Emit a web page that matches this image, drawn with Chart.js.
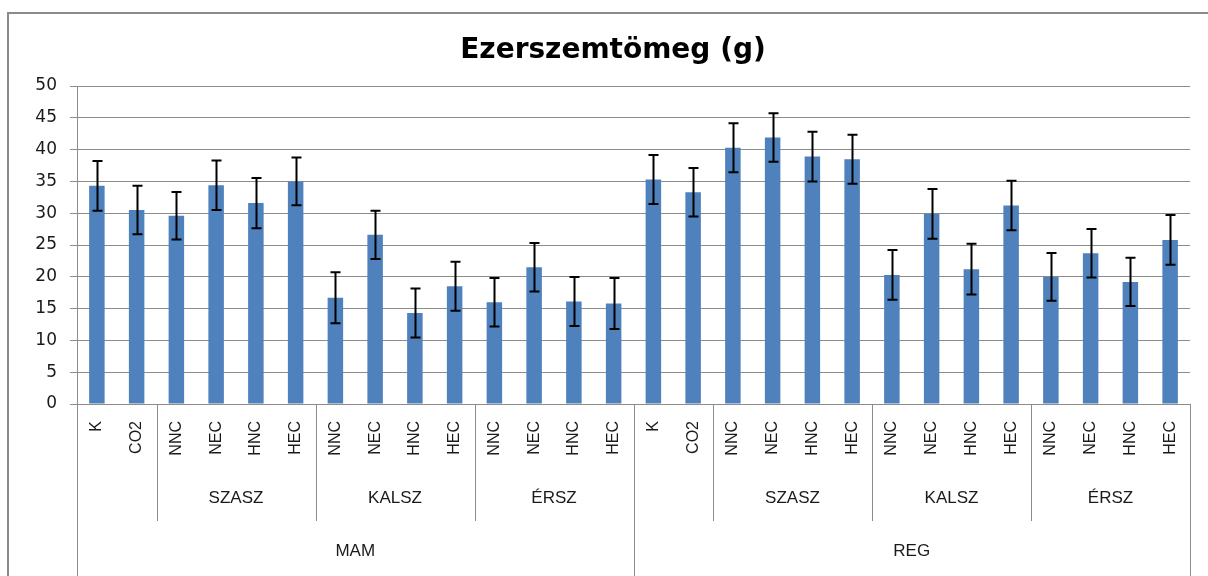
<!DOCTYPE html>
<html>
<head>
<meta charset="utf-8">
<script src="https://cdn.jsdelivr.net/npm/chart.js@4.4.1/dist/chart.umd.min.js"></script>
<style>
  body { margin: 0; background: #fff; }
  #wrap { width: 1208px; height: 576px; }
</style>
</head>
<body>
<div id="wrap"><canvas id="chart" width="1208" height="576"></canvas></div>
<script>
// categories (3 levels on the x axis)
var treatments = ['K','CO2','NNC','NEC','HNC','HEC','NNC','NEC','HNC','HEC','NNC','NEC','HNC','HEC',
                  'K','CO2','NNC','NEC','HNC','HEC','NNC','NEC','HNC','HEC','NNC','NEC','HNC','HEC'];
var subGroups = ['', 'SZASZ', 'KALSZ', 'ÉRSZ', '', 'SZASZ', 'KALSZ', 'ÉRSZ'];
var subGroupSizes = [2, 4, 4, 4, 2, 4, 4, 4];
var mainGroups = ['MAM', 'REG'];
var mainGroupSizes = [14, 14];

// values (g) and their error bars
var means = [34.3, 30.5, 29.6, 34.4, 31.6, 35.0, 16.7, 26.6, 14.3, 18.5, 16.0, 21.5, 16.1, 15.8,
             35.3, 33.3, 40.3, 41.9, 38.9, 38.5, 20.3, 29.9, 21.2, 31.2, 20.0, 23.7, 19.2, 25.8];
var errors = [3.9, 3.8, 3.75, 3.9, 3.95, 3.75, 4.0, 3.8, 3.85, 3.85, 3.8, 3.8, 3.85, 4.0,
              3.85, 3.8, 3.85, 3.8, 3.9, 3.85, 3.9, 3.9, 4.0, 3.9, 3.75, 3.8, 3.8, 3.9];

var yMin = 0, yMax = 50, yStep = 5;

var lineGrey = '#8c8c8c';

function edge(xs, i) {
	if (i <= 0) return xs.left;
	if (i >= treatments.length) return xs.right;
	return (xs.getPixelForValue(i - 1) + xs.getPixelForValue(i)) / 2;
}

var extras = {
	id: 'extras',
	beforeDraw: function(chart) {
		var ctx = chart.ctx;
		ctx.save();
		ctx.fillStyle = '#fff';
		ctx.fillRect(0, 0, chart.width, chart.height);
		// chart frame, cut off at right and bottom like the original
		ctx.strokeStyle = '#8a8a8a';
		ctx.lineWidth = 2;
		ctx.strokeRect(8, 13, chart.width + 40, chart.height + 40);
		ctx.restore();
	},
	afterDatasetsDraw: function(chart) {
		var ctx = chart.ctx, ys = chart.scales.y;
		var bars = chart.getDatasetMeta(0).data;
		ctx.save();
		ctx.strokeStyle = '#000';
		ctx.lineWidth = 2;
		for (var i = 0; i < means.length; i++) {
			var x = Math.round(bars[i].x) + 0.5;
			var t = ys.getPixelForValue(means[i] + errors[i]);
			var b = ys.getPixelForValue(means[i] - errors[i]);
			ctx.beginPath();
			ctx.moveTo(x, t); ctx.lineTo(x, b);
			ctx.moveTo(x - 5, t); ctx.lineTo(x + 5, t);
			ctx.moveTo(x - 5, b); ctx.lineTo(x + 5, b);
			ctx.stroke();
		}
		ctx.restore();
	},
	afterDraw: function(chart) {
		var ctx = chart.ctx, xs = chart.scales.x;
		var top = xs.top, bottom = chart.height;
		ctx.save();
		ctx.strokeStyle = lineGrey;
		ctx.lineWidth = 1;
		function vline(x, y1, y2) {
			x = Math.round(x) + 0.5;
			ctx.beginPath(); ctx.moveTo(x, y1); ctx.lineTo(x, y2); ctx.stroke();
		}
		vline(xs.left, top, bottom);
		vline(xs.right, top, bottom);

		ctx.fillStyle = '#1a1a1a';
		ctx.font = '17px "Liberation Sans", Arial, sans-serif';
		ctx.textAlign = 'center';
		ctx.textBaseline = 'middle';

		var pos = 0;
		for (var k = 0; k < subGroups.length; k++) {
			var a = edge(xs, pos), b = edge(xs, pos + subGroupSizes[k]);
			pos += subGroupSizes[k];
			if (pos < treatments.length) vline(b, top, top + 117);
			if (subGroups[k]) ctx.fillText(subGroups[k], (a + b) / 2, top + 94);
		}
		pos = 0;
		for (var m = 0; m < mainGroups.length; m++) {
			var a2 = edge(xs, pos), b2 = edge(xs, pos + mainGroupSizes[m]);
			pos += mainGroupSizes[m];
			if (pos < treatments.length) vline(b2, top, bottom);
			ctx.fillText(mainGroups[m], (a2 + b2) / 2, top + 147);
		}
		ctx.restore();
	}
};

var chartObj = new Chart(document.getElementById('chart'), {
	type: 'bar',
	data: {
		labels: treatments,
		datasets: [{
			label: 'Ezerszemtömeg (g)',
			data: means,
			backgroundColor: '#4f81bd',
			borderWidth: 0,
			barPercentage: 0.39,
			categoryPercentage: 1
		}]
	},
	options: {
		responsive: false,
		devicePixelRatio: 1,
		animation: false,
		layout: { padding: { left: 36, right: 18, top: 0, bottom: 0 } },
		plugins: {
			legend: { display: false },
			tooltip: { enabled: false },
			title: {
				display: true,
				text: 'Ezerszemtömeg (g)',
				color: '#000',
				font: { family: '"DejaVu Sans", sans-serif', size: 28, weight: 'bold' },
				padding: { top: 34, bottom: 18.4 }
			}
		},
		scales: {
			x: {
				afterFit: function(s) { s.height = 172; },
				grid: { display: false, drawTicks: false, tickLength: 0 },
				border: { display: true, color: lineGrey },
				ticks: {
					autoSkip: false,
					minRotation: 90,
					maxRotation: 90,
					padding: 17,
					color: '#1a1a1a',
					font: { family: '"Liberation Sans", Arial, sans-serif', size: 16 }
				}
			},
			y: {
				min: yMin,
				max: yMax,
				afterFit: function(s) { s.width = 41; },
				grid: { color: lineGrey, tickLength: 7 },
				border: { display: true, color: lineGrey },
				ticks: {
					stepSize: yStep,
					padding: 13,
					color: '#1a1a1a',
					font: { family: '"DejaVu Sans", sans-serif', size: 17 }
				}
			}
		}
	},
	plugins: [extras]
});
</script>
</body>
</html>
